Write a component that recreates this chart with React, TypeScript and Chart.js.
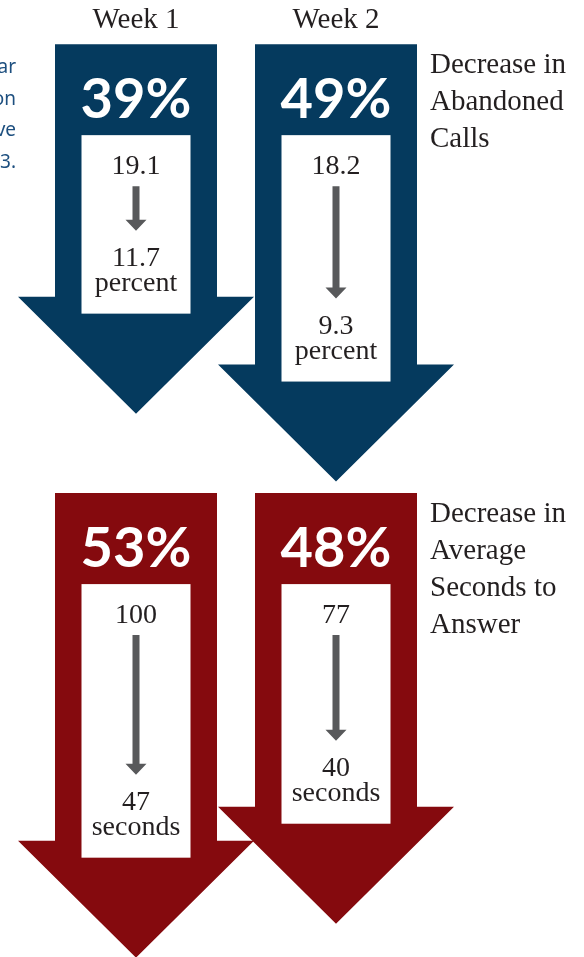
import React, { useEffect, useRef } from "react";
import { Chart, registerables } from "chart.js";

Chart.register(...registerables);

// ---- data ----
const weeks = ["Week 1", "Week 2"];
const abandonedBefore = [19.1, 18.2];
const abandonedAfter = [11.7, 9.3];
const abandonedDecrease = [39, 49];
const answerBefore = [100, 77];
const answerAfter = [47, 40];
const answerDecrease = [53, 48];
const abandonedTitle = ["Decrease in", "Abandoned", "Calls"];
const answerTitle = ["Decrease in", "Average", "Seconds to", "Answer"];
const sideNoteTails = ["ar", "on", "ve", "3."];

// value (on each row's axis) where every big arrow starts
const ARROW_START = -15.4;

const BLUE = "#053a5e";
const RED = "#850a0e";
const GRAY = "#58595b";
const INK = "#231f20";
const SERIF = "'Liberation Serif', 'Times New Roman', serif";

const rows = [
  {
    axis: "yA",
    pct: abandonedDecrease,
    before: abandonedBefore,
    after: abandonedAfter,
    fmt: (v: number) => v.toFixed(1),
    unit: "percent",
    color: BLUE,
    title: abandonedTitle,
  },
  {
    axis: "yS",
    pct: answerDecrease,
    before: answerBefore,
    after: answerAfter,
    fmt: (v: number) => String(v),
    unit: "seconds",
    color: RED,
    title: answerTitle,
  },
];

const arrowPlugin = {
  id: "arrowPlugin",
  afterDraw(chart: any) {
    const ctx: CanvasRenderingContext2D = chart.ctx;
    const xs = chart.scales.x;
    ctx.save();
    ctx.textAlign = "center";
    ctx.textBaseline = "alphabetic";

    // side note tails (cut off text of neighbouring column)
    ctx.fillStyle = "#1d4f7f";
    ctx.font = "19px 'Noto Sans', sans-serif";
    ctx.textAlign = "right";
    sideNoteTails.forEach((t, k) => ctx.fillText(t, 16, 73 + k * 31.7));
    ctx.textAlign = "center";

    rows.forEach((r, ri) => {
      const ys = chart.scales[r.axis];
      const T = ys.getPixelForValue(ARROW_START);

      if (ri === 0) {
        ctx.fillStyle = INK;
        ctx.font = `29px ${SERIF}`;
        weeks.forEach((w, i) => ctx.fillText(w, xs.getPixelForValue(i), T - 16));
      }

      // title on the right
      ctx.textAlign = "left";
      ctx.fillStyle = INK;
      ctx.font = `29px ${SERIF}`;
      r.title.forEach((line, k) => ctx.fillText(line, 430, T + 29 + k * 37));
      ctx.textAlign = "center";

      r.pct.forEach((p, i) => {
        const cx = xs.getPixelForValue(i);
        const Y = ys.getPixelForValue(p);
        const H = Y - 117;

        // big arrow
        ctx.fillStyle = r.color;
        ctx.beginPath();
        ctx.moveTo(cx - 81, T);
        ctx.lineTo(cx + 81, T);
        ctx.lineTo(cx + 81, H);
        ctx.lineTo(cx + 118, H);
        ctx.lineTo(cx, Y);
        ctx.lineTo(cx - 118, H);
        ctx.lineTo(cx - 81, H);
        ctx.closePath();
        ctx.fill();

        // white box
        ctx.fillStyle = "#ffffff";
        ctx.fillRect(cx - 54.5, T + 91, 109, Y - 100 - (T + 91));

        // percentage
        ctx.fillStyle = "#ffffff";
        ctx.font = `bold 56px Lato, 'Open Sans', sans-serif`;
        ctx.fillText(`${p}%`, cx, T + 74);

        // before value
        ctx.fillStyle = INK;
        ctx.font = `28px ${SERIF}`;
        ctx.fillText(r.fmt(r.before[i]), cx, T + 130);

        // gray arrow
        const gTop = T + 142;
        const gTip = Y - 183;
        ctx.fillStyle = GRAY;
        ctx.beginPath();
        ctx.moveTo(cx - 3.5, gTop);
        ctx.lineTo(cx + 3.5, gTop);
        ctx.lineTo(cx + 3.5, gTip - 11);
        ctx.lineTo(cx + 10.5, gTip - 11);
        ctx.lineTo(cx, gTip);
        ctx.lineTo(cx - 10.5, gTip - 11);
        ctx.lineTo(cx - 3.5, gTip - 11);
        ctx.closePath();
        ctx.fill();

        // after value and unit
        ctx.fillStyle = INK;
        ctx.font = `28px ${SERIF}`;
        ctx.fillText(r.fmt(r.after[i]), cx, Y - 148);
        ctx.fillText(r.unit, cx, Y - 123);
      });
    });
    ctx.restore();
  },
};

export default function App() {
  const ref = useRef<HTMLCanvasElement | null>(null);

  useEffect(() => {
    document.body.style.margin = "0";
    const canvas = ref.current;
    if (!canvas) return;
    const chart = new Chart(canvas, {
      type: "bar",
      data: {
        labels: weeks,
        datasets: [
          {
            label: "Abandoned calls decrease (%)",
            data: abandonedDecrease,
            yAxisID: "yA",
            backgroundColor: "rgba(0,0,0,0)",
          },
          {
            label: "Average seconds to answer decrease (%)",
            data: answerDecrease,
            yAxisID: "yS",
            backgroundColor: "rgba(0,0,0,0)",
          },
        ],
      },
      options: {
        responsive: false,
        animation: false,
        events: [],
        layout: { padding: { left: 36, right: 148, top: 0, bottom: 0 } },
        plugins: { legend: { display: false }, tooltip: { enabled: false } },
        scales: {
          x: { type: "category", display: false, offset: true },
          yA: { type: "linear", display: false, reverse: true, min: -21.9, max: 119.0 },
          yS: { type: "linear", display: false, reverse: true, min: -88.0, max: 52.9 },
        },
      },
      plugins: [arrowPlugin],
    });
    return () => chart.destroy();
  }, []);

  return (
    <div style={{ width: 584, height: 957, background: "#ffffff" }}>
      <canvas ref={ref} width={584} height={957} style={{ display: "block" }} />
    </div>
  );
}
